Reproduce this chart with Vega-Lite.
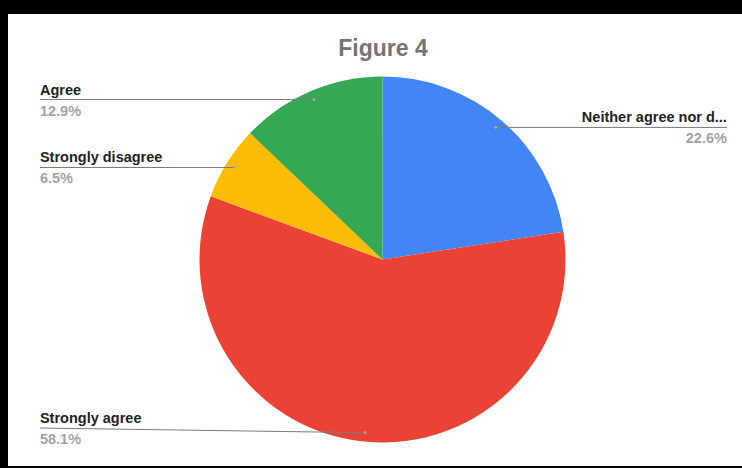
{
  "$schema": "https://vega.github.io/schema/vega-lite/v6.json",
  "autosize": "none",
  "width": 734,
  "height": 452,
  "padding": {"left": 8, "top": 14, "right": 0, "bottom": 2},
  "background": "#000000",
  "config": {"view": {"fill": "#ffffff", "stroke": null}},
  "title": {"text": "Figure 4", "font": "Liberation Sans", "fontSize": 23, "fontWeight": "bold", "color": "#757575", "offset": -65, "dx": 8, "baseline": "alphabetic", "anchor": "middle"},
  "data": {"values": [
    {"answer": "Neither agree nor disagree", "share": 0.226, "rank": 1},
    {"answer": "Strongly agree", "share": 0.581, "rank": 2},
    {"answer": "Strongly disagree", "share": 0.065, "rank": 3},
    {"answer": "Agree", "share": 0.129, "rank": 4}
  ]},
  "transform": [
    {"window": [{"op": "sum", "field": "share", "as": "cum"}], "sort": [{"field": "rank"}]},
    {"joinaggregate": [{"op": "sum", "field": "share", "as": "total"}]},
    {"calculate": "2*PI*(datum.cum - datum.share/2)/datum.total", "as": "ang"},
    {"calculate": "0.951*sin(datum.ang)", "as": "ux"},
    {"calculate": "0.951*cos(datum.ang)", "as": "uy"},
    {"calculate": "datum.ux < 0 ? 'left' : 'right'", "as": "side"},
    {"calculate": "datum.ux < 0 ? -1.872 : 1.882", "as": "lx"},
    {"calculate": "max(datum.uy, -0.921)", "as": "ly"}
  ],
  "layer": [
    {
      "mark": {"type": "arc", "outerRadius": 183},
      "encoding": {
        "theta": {"field": "share", "type": "quantitative", "stack": true},
        "order": {"field": "rank", "type": "quantitative"},
        "color": {"field": "answer", "type": "nominal", "legend": null,
          "scale": {"domain": ["Neither agree nor disagree", "Strongly agree", "Strongly disagree", "Agree"], "range": ["#4285F4", "#EA4335", "#FBBC04", "#34A853"]}},
        "x": {"datum": 0, "type": "quantitative", "axis": null, "scale": {"domain": [-2.0464, 1.9645], "nice": false, "zero": false}},
        "y": {"datum": 0, "type": "quantitative", "axis": null, "scale": {"domain": [-1.1284, 1.3415], "nice": false, "zero": false}}
      }
    },
    {
      "mark": {"type": "rule", "color": "#7a7a7a", "strokeWidth": 1},
      "encoding": {
        "x": {"field": "ux", "type": "quantitative", "axis": null, "scale": {"domain": [-2.0464, 1.9645], "nice": false, "zero": false}},
        "x2": {"field": "lx"},
        "y": {"field": "uy", "type": "quantitative", "axis": null, "scale": {"domain": [-1.1284, 1.3415], "nice": false, "zero": false}},
        "y2": {"field": "ly"}
      }
    },
    {
      "mark": {"type": "point", "filled": true, "size": 8, "color": "#a8a8a8", "opacity": 1},
      "encoding": {
        "x": {"field": "ux", "type": "quantitative", "axis": null, "scale": {"domain": [-2.0464, 1.9645], "nice": false, "zero": false}},
        "y": {"field": "uy", "type": "quantitative", "axis": null, "scale": {"domain": [-1.1284, 1.3415], "nice": false, "zero": false}}
      }
    },
    {
      "transform": [{"filter": "datum.side == 'left'"}],
      "layer": [
        {"mark": {"type": "text", "align": "left", "baseline": "alphabetic", "dy": -5, "font": "Liberation Sans", "fontSize": 14.5, "fontWeight": "bold", "color": "#222222", "limit": 147, "ellipsis": "..."},
         "encoding": {"text": {"field": "answer"}}},
        {"mark": {"type": "text", "align": "left", "baseline": "top", "dy": 5, "font": "Liberation Sans", "fontSize": 14.5, "fontWeight": "bold", "color": "#a3a3a3"},
         "encoding": {"text": {"field": "share", "type": "quantitative", "format": ".1%"}}}
      ],
      "encoding": {
        "x": {"field": "lx", "type": "quantitative", "axis": null, "scale": {"domain": [-2.0464, 1.9645], "nice": false, "zero": false}},
        "y": {"field": "ly", "type": "quantitative", "axis": null, "scale": {"domain": [-1.1284, 1.3415], "nice": false, "zero": false}}
      }
    },
    {
      "transform": [{"filter": "datum.side == 'right'"}],
      "layer": [
        {"mark": {"type": "text", "align": "right", "baseline": "alphabetic", "dy": -5, "font": "Liberation Sans", "fontSize": 14.5, "fontWeight": "bold", "color": "#222222", "limit": 147, "ellipsis": "..."},
         "encoding": {"text": {"field": "answer"}}},
        {"mark": {"type": "text", "align": "right", "baseline": "top", "dy": 5, "font": "Liberation Sans", "fontSize": 14.5, "fontWeight": "bold", "color": "#a3a3a3"},
         "encoding": {"text": {"field": "share", "type": "quantitative", "format": ".1%"}}}
      ],
      "encoding": {
        "x": {"field": "lx", "type": "quantitative", "axis": null, "scale": {"domain": [-2.0464, 1.9645], "nice": false, "zero": false}},
        "y": {"field": "ly", "type": "quantitative", "axis": null, "scale": {"domain": [-1.1284, 1.3415], "nice": false, "zero": false}}
      }
    }
  ]
}
